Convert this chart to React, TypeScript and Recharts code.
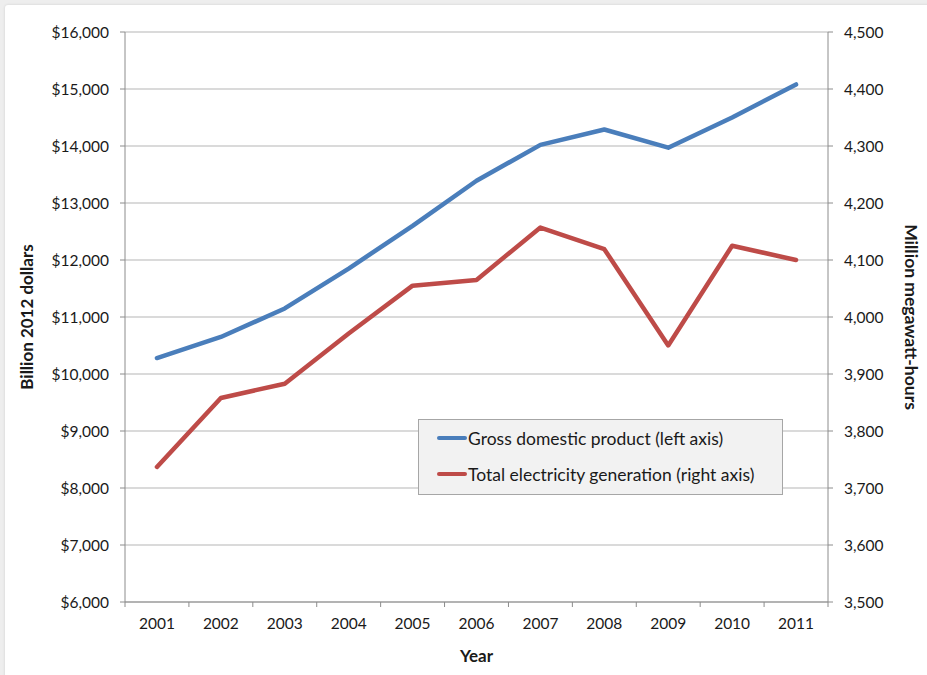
import React from 'react';
import {
  LineChart,
  Line,
  XAxis,
  YAxis,
  CartesianGrid,
  Legend,
} from 'recharts';

const years = ['2001', '2002', '2003', '2004', '2005', '2006', '2007', '2008', '2009', '2010', '2011'];
const gdp = [10280, 10650, 11150, 11850, 12600, 13390, 14020, 14290, 13970, 14500, 15080];
const generation = [3737, 3858, 3883, 3971, 4055, 4065, 4157, 4119, 3950, 4125, 4100];
const gdpTicks = [6000, 7000, 8000, 9000, 10000, 11000, 12000, 13000, 14000, 15000, 16000];
const genTicks = [3500, 3600, 3700, 3800, 3900, 4000, 4100, 4200, 4300, 4400, 4500];

const W = 927;
const H = 675;
const PLOT_LEFT = 125;
const PLOT_RIGHT = 828;
const PLOT_TOP = 32;
const PLOT_BOTTOM = 602;
const HALF_STEP = (PLOT_RIGHT - PLOT_LEFT) / years.length / 2;

const AXIS_COLOR = '#8c8c8c';
const TEXT_COLOR = '#1a1a1a';
const BLUE = '#4a7ebb';
const RED = '#be4b48';

const data = years.map((year, i) => ({ year, gdp: gdp[i], generation: generation[i] }));

function YearTick(props: any) {
  const { x, y, payload, index } = props;
  return (
    <g>
      <line x1={x - HALF_STEP} x2={x - HALF_STEP} y1={y} y2={y + 5} stroke={AXIS_COLOR} />
      {index === years.length - 1 && (
        <line x1={x + HALF_STEP} x2={x + HALF_STEP} y1={y} y2={y + 5} stroke={AXIS_COLOR} />
      )}
      <text x={x} y={y + 21} textAnchor="middle" dominantBaseline="central" fill={TEXT_COLOR} fontSize={15.5}>
        {payload.value}
      </text>
    </g>
  );
}

function LegendBox(props: any) {
  const items = props.payload || [];
  return (
    <div
      style={{
        width: 363,
        height: 74,
        background: '#f2f2f2',
        border: '1px solid #a6a6a6',
        boxSizing: 'content-box',
      }}
    >
      {items.map((item: any, i: number) => (
        <div
          key={i}
          style={{ display: 'flex', alignItems: 'center', height: 38, paddingLeft: 18, marginTop: i === 0 ? -1 : -2 }}
        >
          <span
            style={{
              display: 'inline-block',
              width: 30,
              height: 4,
              borderRadius: 2,
              background: item.color,
              marginRight: 1,
            }}
          />
          <span style={{ fontSize: 17.5, color: TEXT_COLOR, whiteSpace: 'nowrap' }}>{item.value}</span>
        </div>
      ))}
    </div>
  );
}

export default function App() {
  return (
    <div
      style={{
        position: 'fixed',
        left: 0,
        top: 0,
        width: W,
        height: H,
        background: '#eeeeee',
        fontFamily: 'Lato, "Open Sans", sans-serif',
        overflow: 'hidden',
      }}
    >
      <div
        style={{
          position: 'absolute',
          left: 5,
          top: 5,
          width: W,
          height: H,
          background: '#ffffff',
          borderRadius: 3,
          boxShadow: '0 0 3px rgba(0,0,0,0.12)',
        }}
      />
      <div style={{ position: 'absolute', left: 0, top: 0 }}>
        <LineChart
          width={W}
          height={H}
          data={data}
          margin={{ top: PLOT_TOP, right: 0, bottom: 0, left: 0 }}
        >
          <CartesianGrid yAxisId="left" vertical={false} stroke="#b5b5b5" strokeWidth={1} />
          <XAxis
            dataKey="year"
            height={H - PLOT_BOTTOM}
            padding={{ left: HALF_STEP, right: HALF_STEP }}
            axisLine={{ stroke: AXIS_COLOR }}
            tickLine={false}
            tickSize={0}
            tickMargin={0}
            interval={0}
            tick={(p: any) => <YearTick {...p} />}
            label={{
              value: 'Year',
              position: 'insideBottom',
              offset: 13,
              fill: TEXT_COLOR,
              fontSize: 17,
              fontWeight: 700,
            }}
          />
          <YAxis
            yAxisId="left"
            orientation="left"
            width={PLOT_LEFT}
            domain={[6000, 16000]}
            ticks={gdpTicks}
            interval={0}
            axisLine={{ stroke: AXIS_COLOR }}
            tickLine={{ stroke: AXIS_COLOR }}
            tickSize={5}
            tickMargin={11}
            tick={{ fill: TEXT_COLOR, fontSize: 15.5 }}
            tickFormatter={(v: number) => `$${v.toLocaleString('en-US')}`}
            label={{
              value: 'Billion 2012 dollars',
              angle: -90,
              position: 'insideLeft',
              offset: 27,
              fill: TEXT_COLOR,
              fontSize: 17,
              fontWeight: 700,
              style: { textAnchor: 'middle' },
            }}
          />
          <YAxis
            yAxisId="right"
            orientation="right"
            width={W - PLOT_RIGHT}
            domain={[3500, 4500]}
            ticks={genTicks}
            interval={0}
            axisLine={{ stroke: AXIS_COLOR }}
            tickLine={{ stroke: AXIS_COLOR }}
            tickSize={5}
            tickMargin={11}
            tick={{ fill: TEXT_COLOR, fontSize: 15.5 }}
            tickFormatter={(v: number) => v.toLocaleString('en-US')}
            label={{
              value: 'Million megawatt-hours',
              angle: 90,
              position: 'insideRight',
              offset: 16,
              fill: TEXT_COLOR,
              fontSize: 17.5,
              fontWeight: 700,
              style: { textAnchor: 'middle' },
            }}
          />
          <Legend
            layout="vertical"
            align="center"
            verticalAlign="middle"
            content={(p: any) => <LegendBox {...p} />}
            wrapperStyle={{ position: 'absolute', left: 418, top: 419, width: 365, height: 76 }}
          />
          <Line
            yAxisId="left"
            type="linear"
            dataKey="gdp"
            name="Gross domestic product (left axis)"
            stroke={BLUE}
            strokeWidth={4.5}
            strokeLinecap="round"
            strokeLinejoin="round"
            dot={false}
            activeDot={false}
            isAnimationActive={false}
          />
          <Line
            yAxisId="right"
            type="linear"
            dataKey="generation"
            name="Total electricity generation (right axis)"
            stroke={RED}
            strokeWidth={4.5}
            strokeLinecap="round"
            strokeLinejoin="round"
            dot={false}
            activeDot={false}
            isAnimationActive={false}
          />
        </LineChart>
      </div>
    </div>
  );
}
